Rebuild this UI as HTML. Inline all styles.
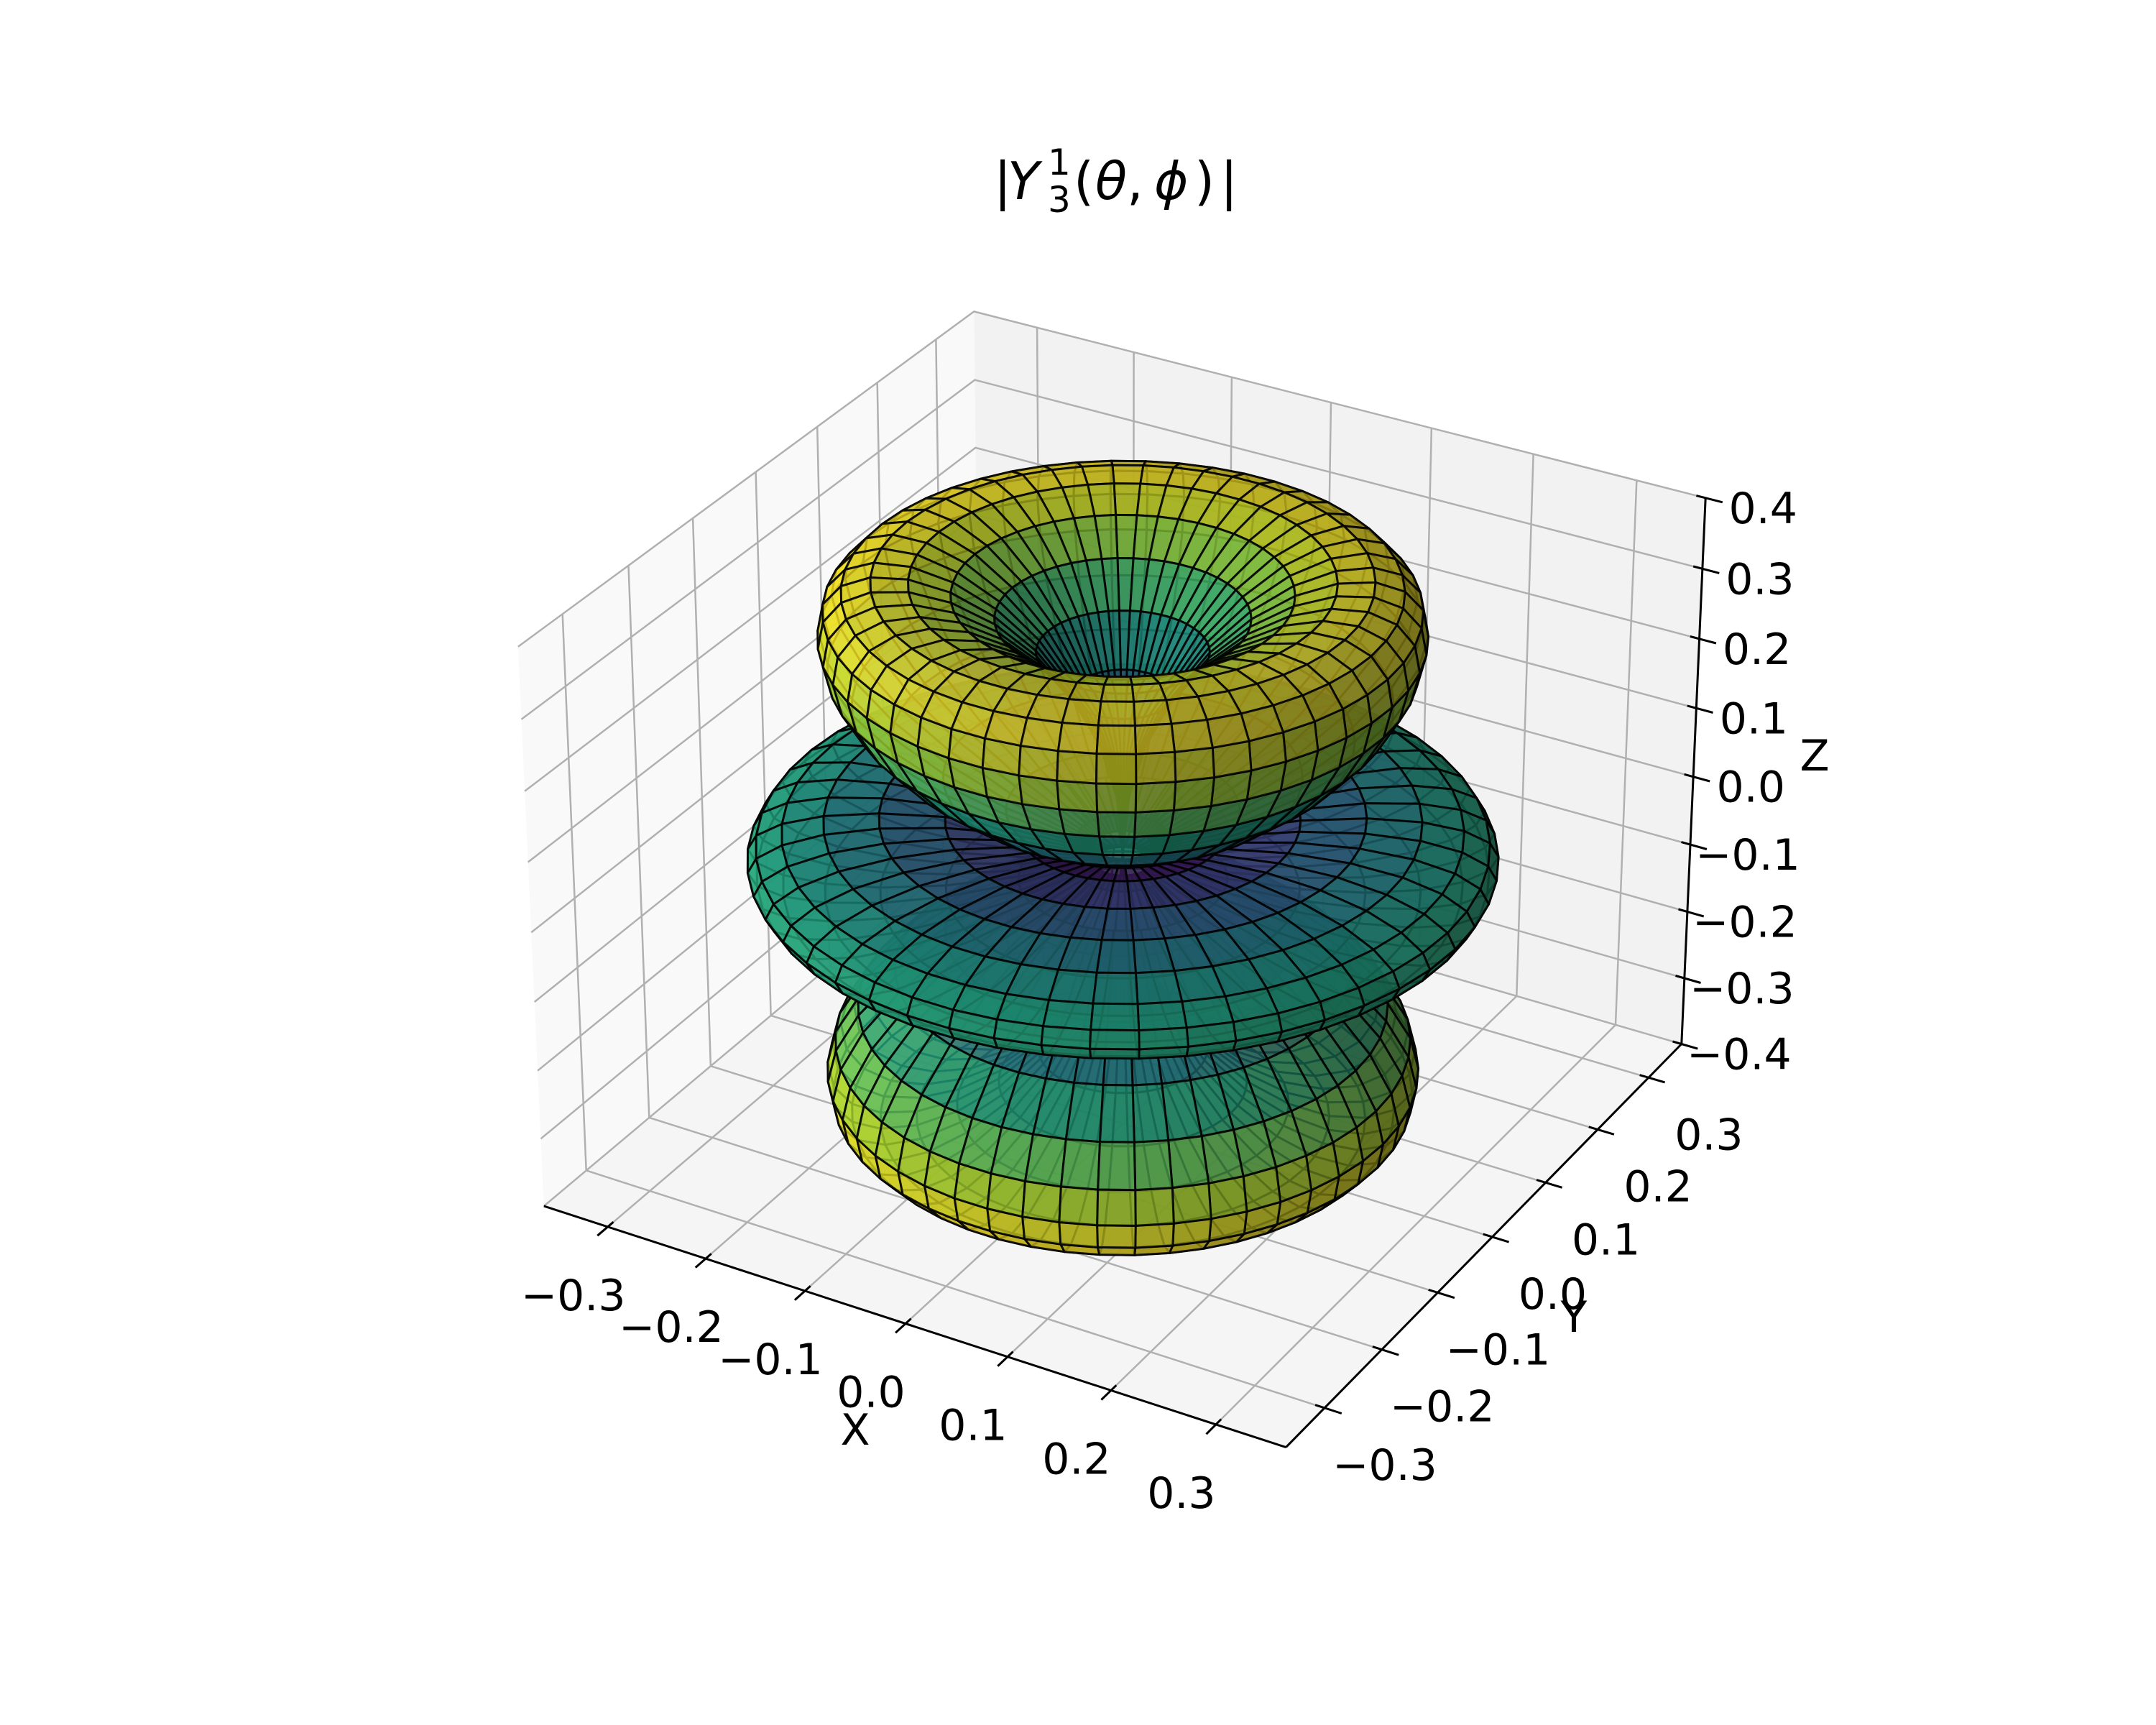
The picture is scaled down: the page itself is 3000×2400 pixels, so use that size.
<!DOCTYPE html>
<html><head><meta charset="utf-8"><style>
html,body{margin:0;padding:0;background:#fff;}
svg{display:block;font-family:"DejaVu Sans","Liberation Sans",sans-serif;}
</style></head><body>
<svg id="fig" width="3000" height="2400" viewBox="0 0 3000 2400" xmlns="http://www.w3.org/2000/svg">
<rect x="0" y="0" width="3000" height="2400" fill="#fff"/>
<g id="panes"></g>
<g id="grid"></g>
<g id="axes"></g>
<g id="surface"></g>
<g id="labels"></g>
<g font-size="72" fill="#000">
<text x="1383" y="277">|</text>
<text x="1402" y="277" font-style="italic">Y</text>
<text x="1458" y="243" font-size="50">1</text>
<text x="1458" y="295" font-size="50">3</text>
<text x="1494" y="277">(</text>
<text x="1524" y="277" font-style="italic">θ</text>
<text x="1568" y="277">,</text>
<text x="1606" y="277" font-style="italic">ϕ</text>
<text x="1662" y="277">)</text>
<text x="1698" y="277">|</text>
</g>
<text x="1190" y="2010" font-size="60" text-anchor="middle">X</text>
<text x="2190" y="1853" font-size="60" text-anchor="middle">Y</text>
<text x="2525" y="1072" font-size="60" text-anchor="middle">Z</text>
</svg>
<script>
const xTicks=[-0.3,-0.2,-0.1,0.0,0.1,0.2,0.3];
const yTicks=[-0.3,-0.2,-0.1,0.0,0.1,0.2,0.3];
const zTicks=[-0.4,-0.3,-0.2,-0.1,0.0,0.1,0.2,0.3,0.4];
const xLim=[-0.366,0.366];
const yLim=[-0.366,0.366];
const zLim=[-0.4,0.4];
const degreeL=[3];
const orderM=[1];
const thetaSteps=[50];
const phiSteps=[50];
const surfaceAlpha=0.8;

const NS="http://www.w3.org/2000/svg";
const deg=Math.PI/180;
const elev=30*deg, azim=-60*deg, dist=10;
const kb=1.8294640721620434/Math.hypot(4,4,3);
const box=[4*kb,4*kb,3*kb];
const Rc=[box[0]/2,box[1]/2,box[2]/2];
const eye=[Rc[0]+dist*Math.cos(elev)*Math.cos(azim),Rc[1]+dist*Math.cos(elev)*Math.sin(azim),Rc[2]+dist*Math.sin(elev)];
function sub(a,b){return [a[0]-b[0],a[1]-b[1],a[2]-b[2]];}
function cross(a,b){return [a[1]*b[2]-a[2]*b[1],a[2]*b[0]-a[0]*b[2],a[0]*b[1]-a[1]*b[0]];}
function dot(a,b){return a[0]*b[0]+a[1]*b[1]+a[2]*b[2];}
function norm(a){const l=Math.hypot(a[0],a[1],a[2]);return l>0?[a[0]/l,a[1]/l,a[2]/l]:[0,0,0];}
const W=norm(sub(eye,Rc)); const U=norm(cross([0,0,1],W)); const V=cross(W,U);
function proj(x,y,z){
  const p=[(x-xLim[0])/(xLim[1]-xLim[0])*box[0]-eye[0],(y-yLim[0])/(yLim[1]-yLim[0])*box[1]-eye[1],(z-zLim[0])/(zLim[1]-zLim[0])*box[2]-eye[2]];
  const zv=dot(W,p);
  return [dot(U,p)/(-zv),dot(V,p)/(-zv),zv];
}
const X0=xLim[0],X1=xLim[1],Y0=yLim[0],Y1=yLim[1],Z0=zLim[0],Z1=zLim[1];
const fitPts=[[[X0,Y0,Z0],[755.6,1677.7]],[[X1,Y0,Z0],[1794.4,2014.4]],[[X1,Y1,Z0],[2337.7,1450.1]],[[X1,Y1,Z1],[2372.1,692.5]],[[X0,Y0,Z1],[717.4,899.1]],[[X0,Y1,Z1],[1358.2,436.2]]];
let mpx=0,mpy=0,mX=0,mY=0;const pr=fitPts.map(f=>proj(...f[0]));
pr.forEach((p,i)=>{mpx+=p[0];mpy+=p[1];mX+=fitPts[i][1][0];mY+=fitPts[i][1][1];});
const nf=fitPts.length;mpx/=nf;mpy/=nf;mX/=nf;mY/=nf;
let num=0,den=0;
pr.forEach((p,i)=>{const dx=p[0]-mpx,dy=p[1]-mpy;num+=dx*(fitPts[i][1][0]-mX)-dy*(fitPts[i][1][1]-mY);den+=dx*dx+dy*dy;});
const S=num/den, CX=mX-S*mpx, CY=mY+S*mpy;
function scr(x,y,z){const p=proj(x,y,z);return [CX+S*p[0],CY-S*p[1],p[2]];}
function pts(list){return list.map(q=>{const s=scr(...q);return s[0].toFixed(1)+","+s[1].toFixed(1);}).join(" ");}

const panes=document.getElementById('panes');
function poly(g,list,fill,name){
  const e=document.createElementNS(NS,'polygon');
  e.setAttribute('points',pts(list));e.setAttribute('fill',fill);
  
  
  g.appendChild(e);return e;
}
poly(panes,[[X0,Y0,Z0],[X0,Y1,Z0],[X0,Y1,Z1],[X0,Y0,Z1]],'#f9f9f9','x-pane');
poly(panes,[[X0,Y1,Z0],[X1,Y1,Z0],[X1,Y1,Z1],[X0,Y1,Z1]],'#f2f2f2','y-pane');
poly(panes,[[X0,Y0,Z0],[X1,Y0,Z0],[X1,Y1,Z0],[X0,Y1,Z0]],'#f5f5f5','floor-pane');

const grid=document.getElementById('grid');
function pline(g,list,stroke,w,name){
  const e=document.createElementNS(NS,'polyline');
  e.setAttribute('points',pts(list));e.setAttribute('fill','none');
  e.setAttribute('stroke',stroke);e.setAttribute('stroke-width',w);
  
  
  g.appendChild(e);return e;
}
xTicks.forEach(t=>pline(grid,[[t,Y0,Z0],[t,Y1,Z0],[t,Y1,Z1]],'#b0b0b0',2.5,'x-gridline'));
yTicks.forEach(t=>pline(grid,[[X1,t,Z0],[X0,t,Z0],[X0,t,Z1]],'#b0b0b0',2.5,'y-gridline'));
zTicks.forEach(t=>pline(grid,[[X0,Y0,t],[X0,Y1,t],[X1,Y1,t]],'#b0b0b0',2.5,'z-gridline'));

const axes=document.getElementById('axes');
pline(axes,[[X0,Y0,Z0],[X1,Y0,Z0]],'#000',3,'x-axis-line');
pline(axes,[[X1,Y0,Z0],[X1,Y1,Z0]],'#000',3,'y-axis-line');
pline(axes,[[X1,Y1,Z0],[X1,Y1,Z1]],'#000',3,'z-axis-line');
const yr=Y1-Y0, xr=X1-X0;
xTicks.forEach(t=>pline(axes,[[t,Y0+0.012*yr,Z0],[t,Y0-0.022*yr,Z0]],'#000',3,'x-tick'));
yTicks.forEach(t=>pline(axes,[[X1-0.012*xr,t,Z0],[X1+0.022*xr,t,Z0]],'#000',3,'y-tick'));
zTicks.forEach(t=>pline(axes,[[X1-0.012*xr,Y1,t],[X1+0.022*xr,Y1,t]],'#000',3,'z-tick'));

const labels=document.getElementById('labels');
function fmt(v){const s=Math.abs(v).toFixed(1);return (v<-1e-9?'\u2212':'')+s;}
function lab(p,dx,dy,txt,name){
  const e=document.createElementNS(NS,'text');
  e.setAttribute('x',(p[0]+dx).toFixed(1));e.setAttribute('y',(p[1]+dy).toFixed(1));
  e.setAttribute('text-anchor','middle');e.setAttribute('dominant-baseline','central');
  e.setAttribute('font-size','60');e.textContent=txt;
  
  
  labels.appendChild(e);
}
xTicks.forEach(t=>lab(scr(t,Y0,Z0),-48,96,fmt(t),'x-tick-label'));
yTicks.forEach(t=>lab(scr(X1,t,Z0),84,80,fmt(t),'y-tick-label'));
zTicks.forEach(t=>lab(scr(X1,Y1,t),80,15,fmt(t),'z-tick-label'));

const VIR=[[68,1,84],[72,35,116],[64,67,135],[52,94,141],[41,120,142],[32,144,140],[34,167,132],[68,190,112],[121,209,81],[189,222,38],[253,231,37]];
function viridis(t){t=Math.max(0,Math.min(1,t));const f=t*10,i=Math.min(9,Math.floor(f)),u=f-i;return VIR[i].map((c,k)=>c+(VIR[i+1][k]-c)*u);}

const L=degreeL[0], M=orderM[0], NT=thetaSteps[0], NP=phiSteps[0];
const coef=Math.sqrt(21/Math.PI)/8;
function Ymag(th){const c=Math.cos(th);return coef*Math.sin(th)*Math.abs(5*c*c-1);}
const P=[],Rv=[];let rmax=0;
for(let i=0;i<=NT;i++){P.push([]);Rv.push([]);const th=Math.PI*i/NT;const r=Ymag(th);
  for(let j=0;j<=NP;j++){const ph=2*Math.PI*j/NP;P[i].push([r*Math.sin(th)*Math.cos(ph),r*Math.sin(th)*Math.sin(ph),r*Math.cos(th)]);Rv[i].push(r);if(r>rmax)rmax=r;}}
const light=norm([Math.cos(-135*deg)*Math.cos(19.4712*deg),Math.sin(-135*deg)*Math.cos(19.4712*deg),Math.sin(19.4712*deg)]);
const faces=[];
for(let i=0;i<NT;i++)for(let j=0;j<NP;j++){
  const q=[P[i][j],P[i][j+1],P[i+1][j+1],P[i+1][j]];
  const n=norm(cross(sub(q[2],q[0]),sub(q[1],q[3])));
  let sh=1;if(n[0]||n[1]||n[2])sh=0.68+0.32*dot(n,light);
  const t=Math.max(Rv[i][j],Rv[i+1][j])/rmax;const col=viridis(Math.pow(t,1.5)).map(c=>Math.round(c*sh));
  const sp=q.map(v=>scr(...v));const d=(sp[0][2]+sp[1][2]+sp[2][2]+sp[3][2])/4;
  faces.push({sp,col,d});
}
faces.sort((a,b)=>a.d-b.d);
const surf=document.getElementById('surface');
faces.forEach(f=>{
  const e=document.createElementNS(NS,'polygon');
  e.setAttribute('points',f.sp.map(s=>s[0].toFixed(1)+","+s[1].toFixed(1)).join(" "));
  e.setAttribute('fill','rgba('+f.col.join(',')+','+surfaceAlpha+')');
  e.setAttribute('stroke','rgba(0,0,0,0.85)');
  e.setAttribute('stroke-width','3');
  e.setAttribute('stroke-linejoin','round');
  
  
  surf.appendChild(e);
});
</script>
</body></html>
